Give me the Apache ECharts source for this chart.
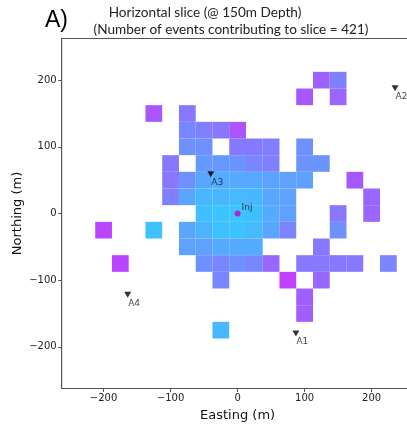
<!DOCTYPE html>
<html>
<head>
<meta charset="utf-8">
<script src="https://cdn.jsdelivr.net/npm/echarts@6/dist/echarts.min.js"></script>
<style>
html,body{margin:0;padding:0;background:#fff;}
#chart{width:407px;height:424px;}
</style>
</head>
<body>
<div id="chart"></div>
<script>
// ---- data ----
const binSize = 25;
// cell centres (Easting, Northing) and colour value (0 = cyan, 1 = magenta)
const cellE = [
  125,150,
  100,150,
  -125,-75,
  -75,-50,-25,0,
  -75,-50,0,25,50,100,
  -100,-50,-25,0,25,50,100,125,
  -100,-75,-50,-25,0,25,50,75,100,175,
  -100,-75,-50,-25,0,25,50,75,200,
  -50,-25,0,25,50,75,150,200,
  -200,-125,-75,-50,-25,0,25,50,75,150,
  -75,-50,-25,0,25,125,
  -175,-50,-25,0,25,50,100,125,150,175,225,
  -25,75,125,
  100,
  100,
  -25
];
const cellN = [
  200,200,
  175,175,
  150,150,
  125,125,125,125,
  100,100,100,100,100,100,
  75,75,75,75,75,75,75,75,
  50,50,50,50,50,50,50,50,50,50,
  25,25,25,25,25,25,25,25,25,
  0,0,0,0,0,0,0,0,
  -25,-25,-25,-25,-25,-25,-25,-25,-25,-25,
  -50,-50,-50,-50,-50,-50,
  -75,-75,-75,-75,-75,-75,-75,-75,-75,-75,-75,
  -100,-100,-100,
  -125,
  -150,
  -175
];
const cellV = [
  0.62,0.50,
  0.66,0.60,
  0.66,0.53,
  0.47,0.50,0.53,0.67,
  0.43,0.43,0.52,0.52,0.50,0.43,
  0.53,0.40,0.40,0.42,0.48,0.50,0.42,0.42,
  0.53,0.43,0.35,0.33,0.33,0.34,0.36,0.37,0.37,0.66,
  0.50,0.35,0.28,0.29,0.27,0.28,0.35,0.37,0.60,
  0.25,0.23,0.23,0.25,0.33,0.37,0.53,0.60,
  0.73,0.24,0.35,0.30,0.24,0.23,0.27,0.35,0.48,0.43,
  0.37,0.37,0.33,0.33,0.33,0.53,
  0.73,0.43,0.47,0.43,0.47,0.60,0.53,0.53,0.53,0.53,0.48,
  0.47,0.75,0.60,
  0.63,
  0.63,
  0.28
];
const stationNames = ['A1','A2','A3','A4'];
const stationE = [87, 235, -40, -164];
const stationN = [-180, 188, 59, -122];
const injName = 'Inj';
const injE = [0];
const injN = [0];
const xTicks = [-200,-100,0,100,200];
const yTicks = [-200,-100,0,100,200];
const axisMin = -262.5, axisMax = 262.5;

// ---- helpers ----
function cool(t){
  const r = Math.round(255*t), g = Math.round(255*(1-t));
  return 'rgb(' + r + ',' + g + ',255)';
}
function fmt(v){ return v < 0 ? '\u2212' + Math.abs(v) : String(v); }

const cells = cellE.map((e,i)=>[e, cellN[i], cellV[i]]);
const stations = stationNames.map((n,i)=>({name:n, value:[stationE[i], stationN[i]]}));
const inj = injE.map((e,i)=>({name:injName, value:[e, injN[i]]}));

const chart = echarts.init(document.getElementById('chart'), null, {renderer:'canvas'});
const tickFont = {fontFamily:'DejaVu Sans', fontSize:10, color:'#222'};
chart.setOption({
  animation:false,
  backgroundColor:'#fff',
  grid:{left:61.7, top:38.5, width:351.8, height:350, outerBoundsMode:'none', containLabel:false,
    show:true, borderColor:'#555', borderWidth:1, backgroundColor:'transparent'},
  graphic:[
    {type:'text', left:45, top:9, style:{text:'A)', font:'23px "Liberation Sans"', fill:'#000'}},
    {type:'text', x:205, y:13, style:{text:'Horizontal slice (@ 150m Depth)', font:'13.6px Lato', fill:'#222', align:'center', verticalAlign:'middle'}},
    {type:'text', x:231, y:30, style:{text:'(Number of events contributing to slice = 421)', font:'13.6px Lato', fill:'#222', align:'center', verticalAlign:'middle'}}
  ],
  xAxis:{
    type:'value', min:axisMin, max:axisMax,
    name:'Easting (m)', nameLocation:'middle', nameGap:21, nameMoveOverlap:false,
    nameTextStyle:{fontFamily:'DejaVu Sans', fontSize:13, color:'#111'},
    axisLine:{show:true, onZero:false, lineStyle:{color:'#555', width:1}},
    axisTick:{show:true, length:3.5, customValues:xTicks, lineStyle:{color:'#555'}},
    axisLabel:Object.assign({customValues:xTicks, margin:5, formatter:fmt}, tickFont),
    splitLine:{show:false}
  },
  yAxis:{
    type:'value', min:axisMin, max:axisMax,
    name:'Northing (m)', nameLocation:'middle', nameGap:38, nameMoveOverlap:false,
    nameTextStyle:{fontFamily:'DejaVu Sans', fontSize:13, color:'#111'},
    axisLine:{show:true, onZero:false, lineStyle:{color:'#555', width:1}},
    axisTick:{show:true, length:3.5, customValues:yTicks, lineStyle:{color:'#555'}},
    axisLabel:Object.assign({customValues:yTicks, margin:5, formatter:fmt}, tickFont),
    splitLine:{show:false}
  },
  series:[
    {
      type:'custom',
      data:cells,
      encode:{x:0, y:1},
      renderItem:function(params, api){
        const e = api.value(0), n = api.value(1);
        const p1 = api.coord([e - binSize/2, n + binSize/2]);
        const p2 = api.coord([e + binSize/2, n - binSize/2]);
        return {type:'rect', shape:{x:p1[0], y:p1[1], width:p2[0]-p1[0], height:p2[1]-p1[1]},
          style:{fill:cool(api.value(2))}};
      },
      z:1
    },
    {
      type:'scatter',
      data:stations,
      symbol:'triangle', symbolRotate:180, symbolSize:[7,6],
      itemStyle:{color:'#000'},
      label:{show:true, formatter:'{b}', position:[4,7], align:'left', verticalAlign:'top',
        fontFamily:'DejaVu Sans', fontSize:9, color:'#111'},
      z:3
    },
    {
      type:'scatter',
      data:inj,
      symbol:'circle', symbolSize:6,
      itemStyle:{color:'#cc00cc'},
      label:{show:true, formatter:'{b}', position:[7,2], align:'left', verticalAlign:'bottom',
        fontFamily:'DejaVu Sans', fontSize:9, color:'#111'},
      z:3
    }
  ]
});
</script>
</body>
</html>
